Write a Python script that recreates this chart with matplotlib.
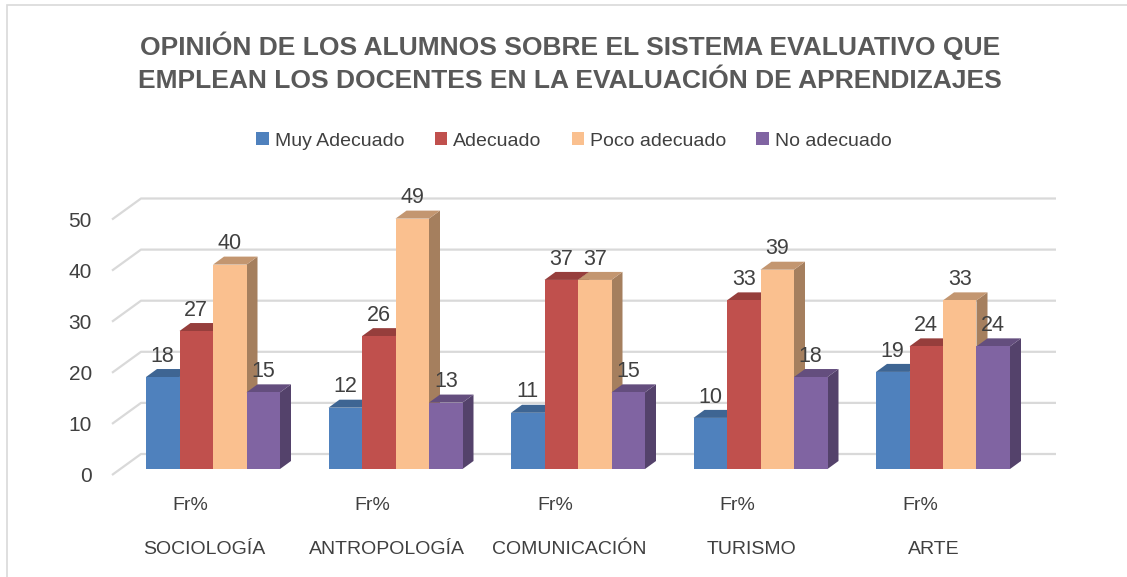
import matplotlib
matplotlib.use("Agg")
import matplotlib.pyplot as plt
from matplotlib.patches import Polygon, Rectangle, Patch
import matplotlib.colors as mcolors

categories = ["SOCIOLOGÍA", "ANTROPOLOGÍA", "COMUNICACIÓN", "TURISMO", "ARTE"]
sub_label = "Fr%"
series_names = ["Muy Adecuado", "Adecuado", "Poco adecuado", "No adecuado"]
muy_adecuado = [18, 12, 11, 10, 19]
adecuado = [27, 26, 37, 33, 24]
poco_adecuado = [40, 49, 37, 39, 33]
no_adecuado = [15, 13, 15, 18, 24]
y_ticks = [0, 10, 20, 30, 40, 50]
title = ("OPINIÓN DE LOS ALUMNOS SOBRE EL SISTEMA EVALUATIVO QUE\n"
         "EMPLEAN LOS DOCENTES EN LA EVALUACIÓN DE APRENDIZAJES")

series = [muy_adecuado, adecuado, poco_adecuado, no_adecuado]
colors = ["#4F81BD", "#C0504D", "#FAC08F", "#8064A2"]

plt.rcParams['font.family'] = ['Liberation Sans', 'DejaVu Sans']

W, H = 1127, 577
fig = plt.figure(figsize=(W / 100, H / 100), dpi=100)
ax = fig.add_axes([0, 0, 1, 1])

# layout (pixel geometry of the reference)
x0px, gpx = 213.0, 182.5
y0px, upx = 469.0, 5.11
ax.set_xlim(-x0px / gpx, (W - x0px) / gpx)
ax.set_ylim((y0px - H) / upx, y0px / upx)
ax.axis('off')

dx, dy = 11 / gpx, 8 / upx
back_off = (y0px - 454) / upx
front_off = (y0px - 475) / upx
x_front = (112 - x0px) / gpx
x_back = (141 - x0px) / gpx
x_end = (1056 - x0px) / gpx
grid_c = "#d9d9d9"
txt_c = "#404040"

# gridlines (3D back wall + left floor diagonals)
for v in y_ticks:
    ax.plot([x_front, x_back, x_end], [v + front_off, v + back_off, v + back_off],
            color=grid_c, lw=1.6, zorder=1, solid_capstyle='butt')
    ax.text((92 - x0px) / gpx, v + front_off - 0.3, str(v), ha='right', va='center',
            fontsize=15, color=txt_c)

n_s = len(series)
w = (134 / 4) / gpx


def shade(c, f):
    r, g, b = mcolors.to_rgb(c)
    return (r * f, g * f, b * f)


z = 2
for gi in range(len(categories)):
    for si in range(n_s):
        v = series[si][gi]
        left = gi + (si - n_s / 2) * w
        right = left + w
        c = colors[si]
        side = Polygon([(right, 0), (right + dx, dy), (right + dx, v + dy), (right, v)],
                       closed=True, fc=shade(c, 0.66), ec='none', zorder=z)
        top = Polygon([(left, v), (left + dx, v + dy), (right + dx, v + dy), (right, v)],
                      closed=True, fc=shade(c, 0.78), ec='none', zorder=z)
        ax.add_patch(side)
        ax.add_patch(top)
        ax.bar(left, v, width=w, align='edge', color=c, edgecolor='none', zorder=z + 0.5)
        ax.text(left + w / 2, v + 3.0, str(v), ha='center', va='baseline',
                fontsize=15.5, color=txt_c, zorder=50)
        z += 1

for gi, cat in enumerate(categories):
    ax.text(gi - 23 / gpx, (y0px - 505) / upx, sub_label, ha='center', va='center',
            fontsize=14, color=txt_c)
    ax.text(gi - 9 / gpx, (y0px - 549) / upx, cat, ha='center', va='center',
            fontsize=14, color=txt_c)

fig.text(570 / W, 1 - 62 / H, title, ha='center', va='center', fontsize=19,
         fontweight='bold', color='#595959', linespacing=1.45)

handles = [Patch(facecolor=c, edgecolor='none', label=n) for c, n in zip(colors, series_names)]
leg = fig.legend(handles=handles, loc='center', bbox_to_anchor=(574 / W, 1 - 141 / H),
                 ncol=4, frameon=False, fontsize=14, handlelength=0.65, handleheight=0.65,
                 handletextpad=0.3, columnspacing=1.55)
for t in leg.get_texts():
    t.set_color(txt_c)

fig.patches.append(Rectangle((7 / W, -0.1), 1.2, 1.1 - 5 / H, transform=fig.transFigure,
                             fill=False, ec=grid_c, lw=1.2))

fig.savefig("out.png", dpi=100)
